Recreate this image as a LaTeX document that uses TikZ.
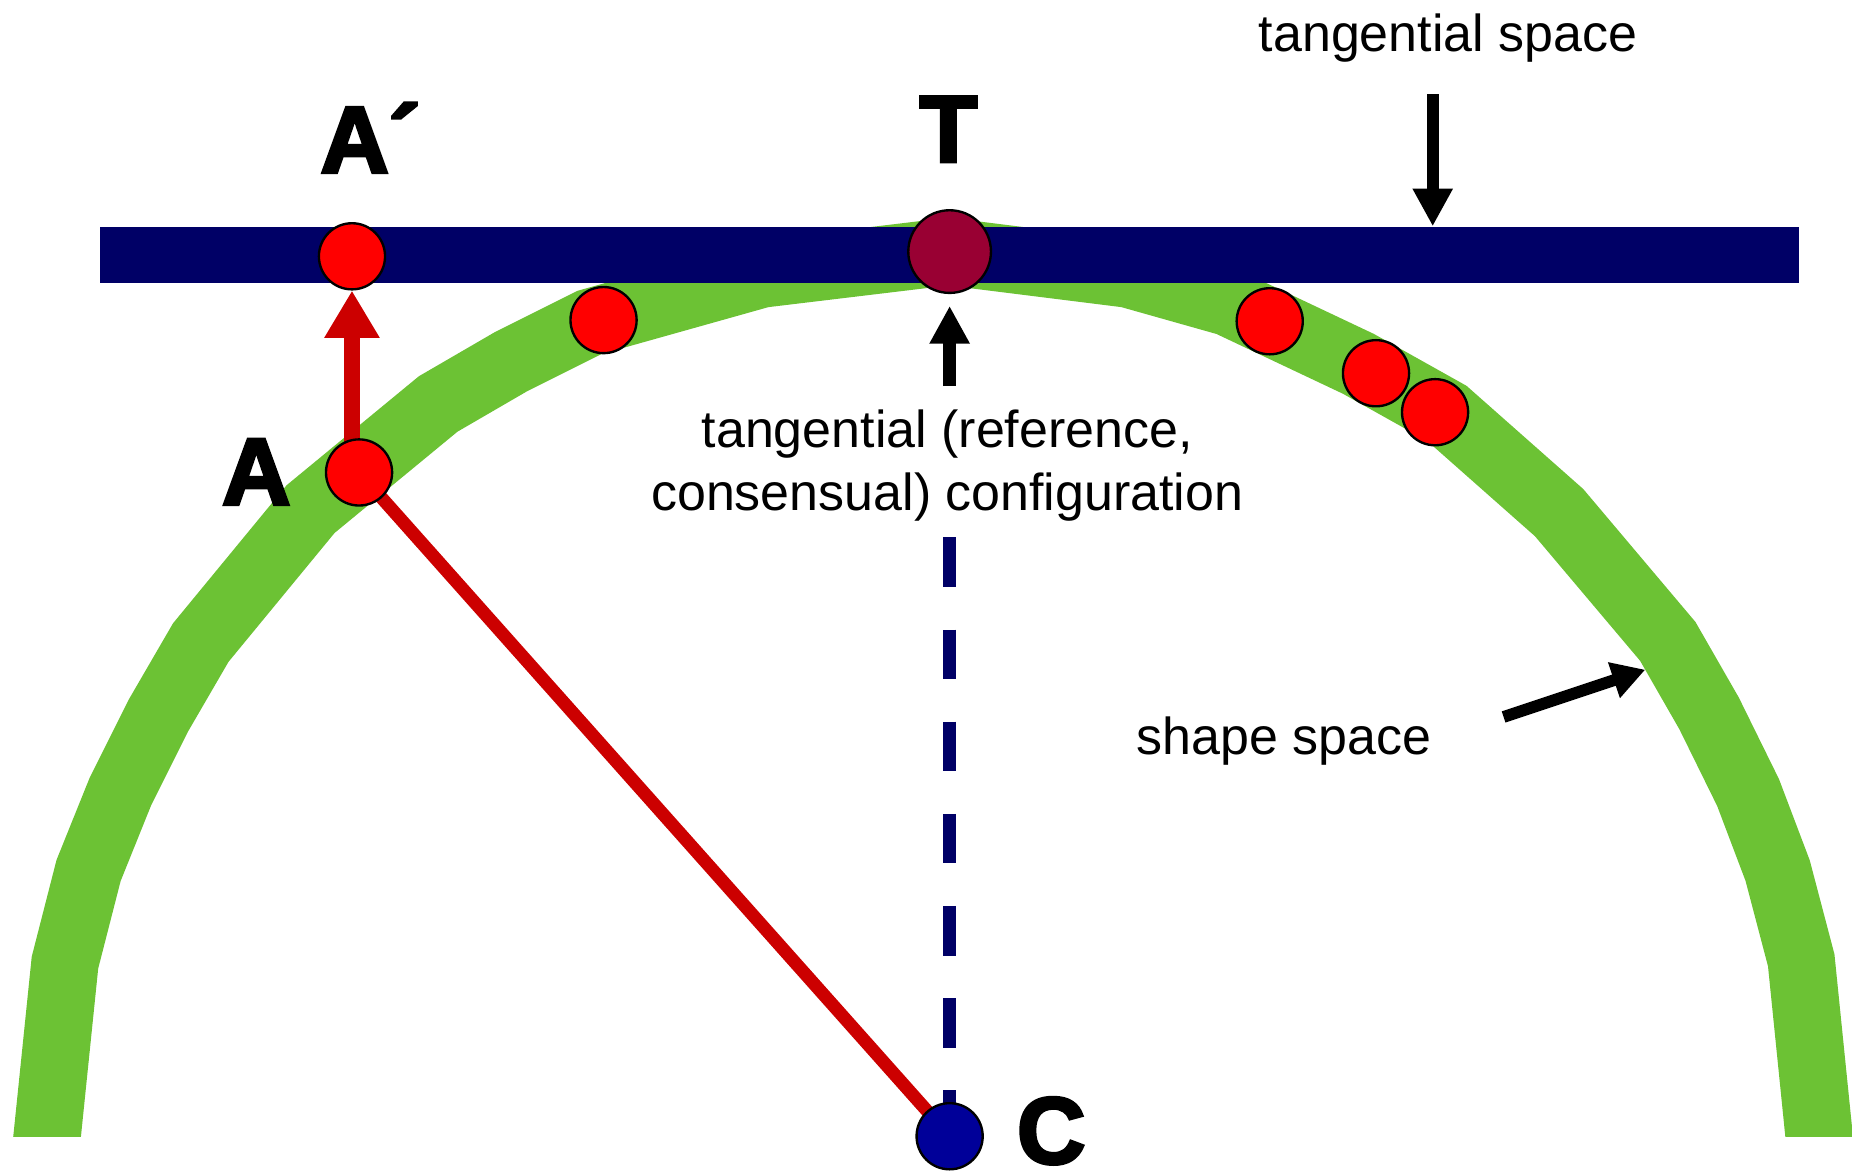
\documentclass[tikz,border=0pt]{standalone}
\usepackage{fontspec}
\setmainfont{Liberation Sans}
\newfontfamily\heavyfont[FakeBold=3.5]{Liberation Sans Bold}
\usetikzlibrary{arrows.meta}

\definecolor{bandgreen}{RGB}{108,194,52}
\definecolor{barnavy}{RGB}{0,0,102}
\definecolor{dotred}{RGB}{255,0,0}
\definecolor{linered}{RGB}{204,0,0}
\definecolor{refmaroon}{RGB}{153,0,51}
\definecolor{centreblue}{RGB}{0,0,153}

\pgfdeclarelayer{back}
\pgfdeclarelayer{mid}
\pgfsetlayers{back,mid,main}

\newcommand{\shapedot}[2]{%
    \node[reddot] (#1) at (#2) {};%
}

\begin{document}
\begin{tikzpicture}[x=0.5pt, y=-0.5pt,
    reddot/.style={circle, draw=black, line width=1pt, fill=dotred, minimum size=28pt, inner sep=0pt},
    txt/.style={font=\fontsize{22}{26.5}\selectfont, inner sep=0pt},
    biglbl/.style={font=\heavyfont\fontsize{40}{40}\selectfont, inner sep=0pt},
    blackarrow/.style={line width=5.5pt, -{Triangle[length=16pt, width=16pt]}}]
        \useasboundingbox (0,0) rectangle (1568,995);

        % --- Shape space (green band) and tangential space (bar) ---
        \begin{pgfonlayer}{back}
            \begin{scope}
                \clip (0,0) rectangle (1568,962);
                \draw[bandgreen, line width=28.5pt]
                    (36,1000) -- (55,815) -- (75,737) -- (102,670) -- (134,606)
                    -- (170,544) -- (263,431) -- (371,342) -- (433,306) -- (499,273)
                    -- (645,232) -- (803,213) -- (955,232) -- (1040,256) -- (1150,308)
                    -- (1225,350) -- (1320,434) -- (1412,543) -- (1447,604) -- (1480,671)
                    -- (1505,737) -- (1525,813) -- (1544,1000);
            \end{scope}
            \node[fill=barnavy, minimum width=719pt, minimum height=24pt, inner sep=0pt] (bar) at (804,216) {};
        \end{pgfonlayer}

        % --- Configurations ---
        \shapedot{Ap}{298,217}
        \shapedot{A}{304,400}
        \shapedot{s1}{511,271}
        \shapedot{s2}{1075,272}
        \shapedot{s3}{1165,316}
        \shapedot{s4}{1215,349}
        \node[reddot, fill=refmaroon, minimum size=35pt] (T) at (804,213) {};
        \node[reddot, fill=centreblue] (C) at (804,962) {};

        % --- Connectors ---
        \coordinate (dtop) at (804,455);
        \coordinate (tarrow) at (804,327);
        \coordinate (tsarrow) at (1213,80);
        \coordinate (ssfrom) at (1273,607);
        \coordinate (ssto) at (1393,567);
        \begin{pgfonlayer}{mid}
            \draw[linered, line width=5.5pt] (A.center) -- (C.center);
            \draw[linered, line width=7pt, -{Triangle[length=20pt, width=22pt]}] (Ap |- A.center) -- (Ap);
            \draw[barnavy, line width=5.5pt, dash pattern=on 21pt off 18pt] (dtop) -- (C.center);
        \end{pgfonlayer}
        \draw[blackarrow, shorten >=5pt] (tarrow) -- (T);
        \draw[blackarrow, line width=5pt] (tsarrow) -- (tsarrow |- bar.north);
        \draw[blackarrow, line width=5pt, -{Triangle[length=14pt, width=15pt]}] (ssfrom) -- (ssto);

        % --- Labels ---
        \node[txt, anchor=base] (tslbl) at (1226,44) {tangential space};
        \node[txt, anchor=base, align=center] (cfglbl) at (802,432) {tangential (reference,\\consensual) configuration};
        \node[txt, anchor=base] (sslbl) at (1087,639) {shape space};
        \node[biglbl, anchor=base] (Tlbl) at (803,137) {T};
        \node[biglbl, anchor=base west] (Aplbl) at (271,146) {A´};
        \node[biglbl, anchor=base] (Albl) at (217,427) {A};
        \node[biglbl, anchor=base] (Clbl) at (890,985) {C};

    \end{tikzpicture}
\end{document}
